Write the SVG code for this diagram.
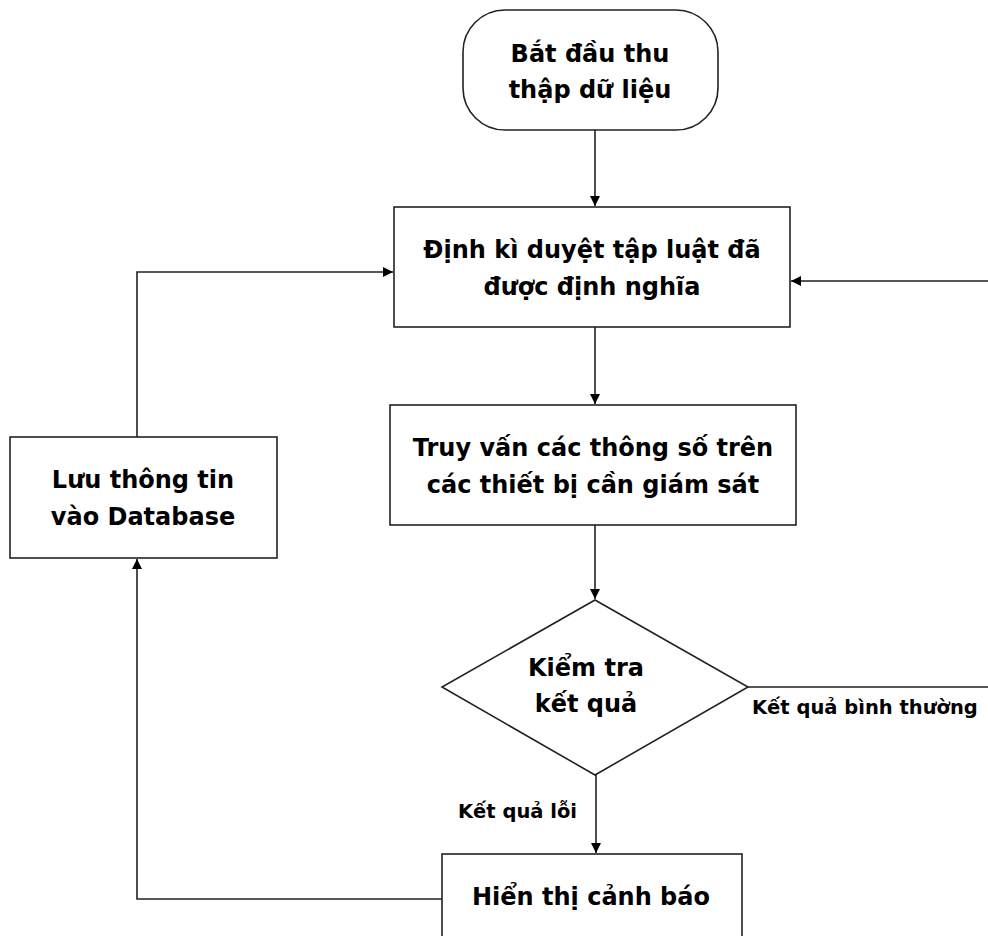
<svg xmlns="http://www.w3.org/2000/svg" width="988" height="936" viewBox="0 0 988 936">
<defs>
<style>
.n{fill:#fff;stroke:#222;stroke-width:1.6}
.t{font-family:"DejaVu Sans","Liberation Sans",sans-serif;font-weight:bold;font-size:24px;fill:#000;text-anchor:middle}
.l{font-family:"DejaVu Sans","Liberation Sans",sans-serif;font-weight:bold;font-size:19.5px;fill:#000}
.c{fill:none;stroke:#222;stroke-width:1.6}
</style>
<marker id="a" viewBox="0 0 10 10" refX="10" refY="5" markerWidth="10" markerHeight="10" markerUnits="userSpaceOnUse" orient="auto"><path d="M0,0L10,5L0,10z" fill="#000"/></marker>
</defs>
<rect width="988" height="936" fill="#fff"/>
<g id="connectors">
<path class="c" d="M595,130V206" marker-end="url(#a)"/>
<path class="c" d="M595,327V404" marker-end="url(#a)"/>
<path class="c" d="M595,525V599" marker-end="url(#a)"/>
<path class="c" d="M596,775V853" marker-end="url(#a)"/>
<path class="c" d="M442,899H137V559" marker-end="url(#a)"/>
<path class="c" d="M137,437V272H393" marker-end="url(#a)"/>
<path class="c" d="M748,687H990V281H791" marker-end="url(#a)"/>
<text class="l" x="752" y="714">Kết quả bình thường</text>
<text class="l" x="458" y="818">Kết quả lỗi</text>
</g>
<g id="start">
<rect class="n" x="463" y="10" width="255" height="120" rx="42"/>
<text class="t" x="590" y="62">Bắt đầu thu</text>
<text class="t" x="590" y="98">thập dữ liệu</text>
</g>
<g id="rules">
<rect class="n" x="394" y="207" width="396" height="120"/>
<text class="t" x="592" y="258">Định kì duyệt tập luật đã</text>
<text class="t" x="592" y="295">được định nghĩa</text>
</g>
<g id="query">
<rect class="n" x="390" y="405" width="406" height="120"/>
<text class="t" x="593" y="456">Truy vấn các thông số trên</text>
<text class="t" x="593" y="493">các thiết bị cần giám sát</text>
</g>
<g id="check">
<path class="n" d="M595,600L748,687L595,775L442,687Z"/>
<text class="t" x="586" y="676">Kiểm tra</text>
<text class="t" x="586" y="712">kết quả</text>
</g>
<g id="save">
<rect class="n" x="10" y="437" width="267" height="121"/>
<text class="t" x="143" y="488">Lưu thông tin</text>
<text class="t" x="143" y="525">vào Database</text>
</g>
<g id="alert">
<rect class="n" x="442" y="854" width="300" height="100"/>
<text class="t" x="591" y="905">Hiển thị cảnh báo</text>
</g>
</svg>
